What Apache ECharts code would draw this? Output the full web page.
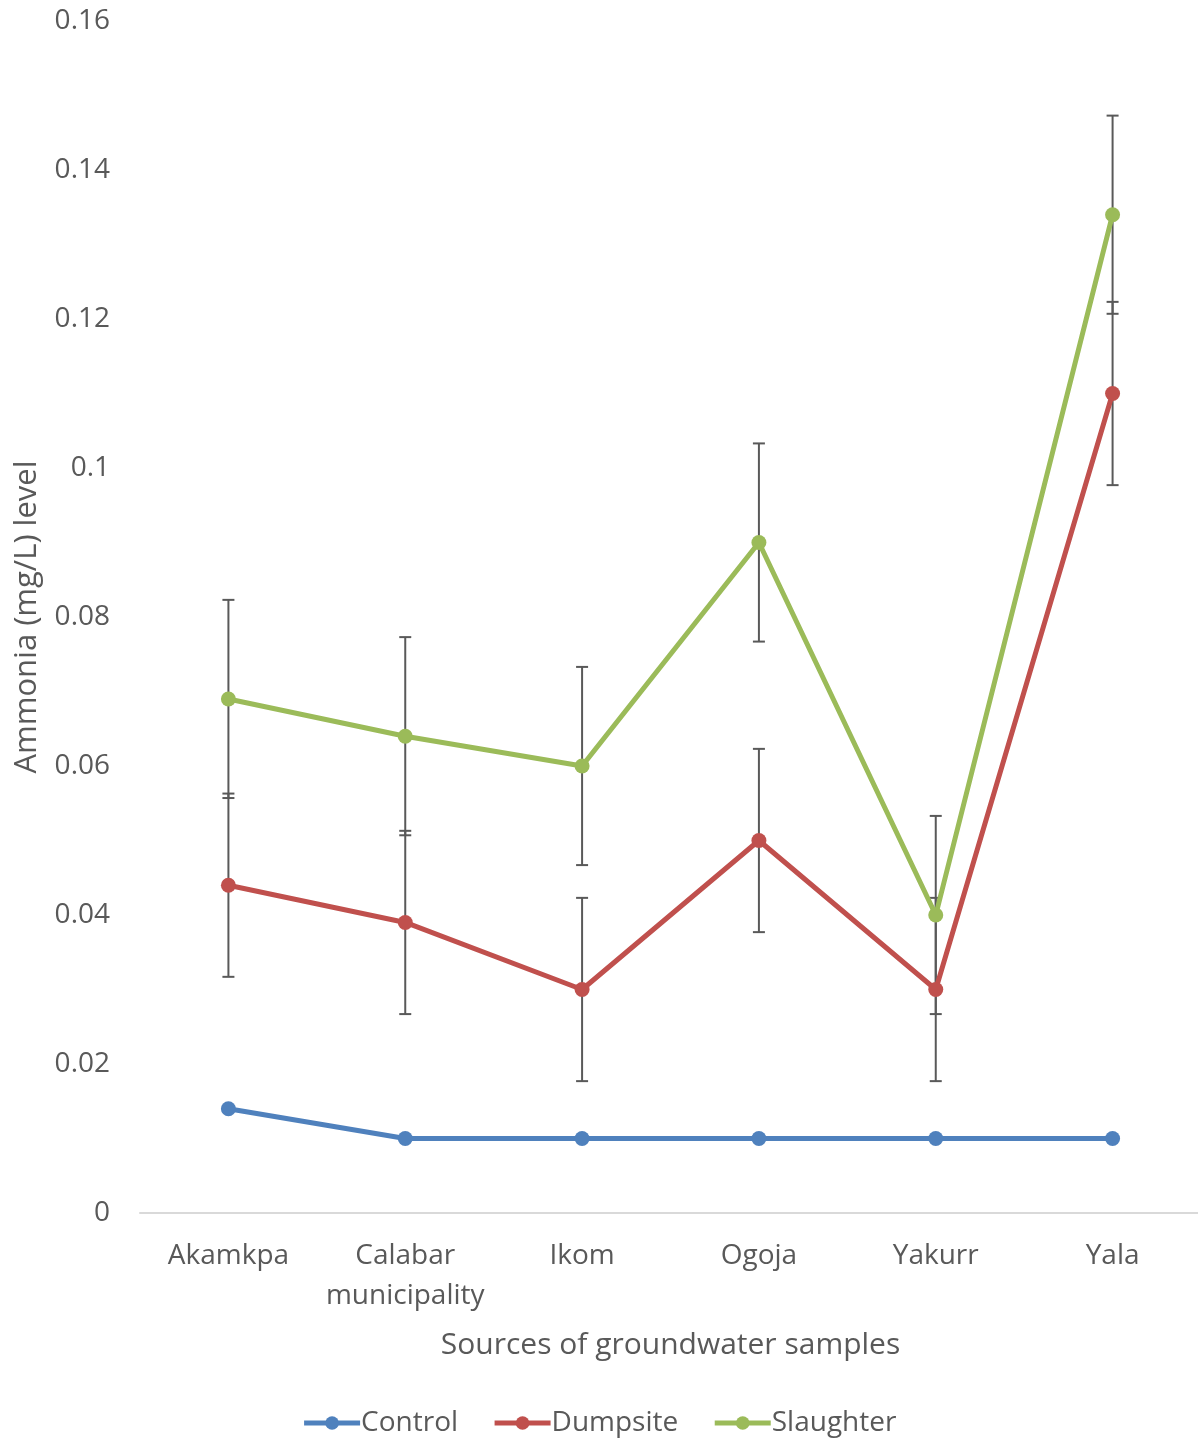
<!DOCTYPE html>
<html>
<head>
	<meta charset="UTF-8">
	<title>ammonia</title>
	<script src="https://cdn.jsdelivr.net/npm/echarts@6/dist/echarts.min.js"></script>
	<style>
		html, body { margin: 0; padding: 0; background: #fff; }
		#chart { width: 1198px; height: 1443px; }
	</style>
</head>
<body>
	<div id="chart"></div>
	<script type="text/javascript">
		var sites = ['Akamkpa', 'Calabar\nmunicipality', 'Ikom', 'Ogoja', 'Yakurr', 'Yala'];
		var yTicks = [0, 0.02, 0.04, 0.06, 0.08, 0.1, 0.12, 0.14, 0.16];

		var control = [0.014, 0.01, 0.01, 0.01, 0.01, 0.01];
		var dumpsite = [0.044, 0.039, 0.03, 0.05, 0.03, 0.11];
		var slaughter = [0.069, 0.064, 0.06, 0.09, 0.04, 0.134];

		// error amounts (+/-)
		var dumpsiteErr = [0.0123, 0.0123, 0.0123, 0.0123, 0.0123, 0.0123];
		var slaughterErr = [0.0133, 0.0133, 0.0133, 0.0133, 0.0133, 0.0133];

		var textColor = '#595959';
		var font = 'Open Sans';

		function errData(vals, errs) {
			var out = [];
			for (var i = 0; i < vals.length; i++) {
				out.push([i, vals[i] - errs[i], vals[i] + errs[i]]);
			}
			return out;
		}

		function renderErr(params, api) {
			var x = api.value(0);
			var lo = api.coord([x, api.value(1)]);
			var hi = api.coord([x, api.value(2)]);
			var w = 6;
			var st = { stroke: '#595959', lineWidth: 2 };
			return {
				type: 'group',
				children: [
					{ type: 'line', shape: { x1: hi[0], y1: hi[1], x2: lo[0], y2: lo[1] }, style: st },
					{ type: 'line', shape: { x1: hi[0] - w, y1: hi[1], x2: hi[0] + w, y2: hi[1] }, style: st },
					{ type: 'line', shape: { x1: lo[0] - w, y1: lo[1], x2: lo[0] + w, y2: lo[1] }, style: st }
				]
			};
		}

		function lineSeries(name, data, color) {
			return {
				name: name,
				type: 'line',
				data: data,
				symbol: 'circle',
				symbolSize: 15,
				z: 5,
				itemStyle: { color: color },
				lineStyle: { color: color, width: 5 }
			};
		}

		var myChart = echarts.init(document.getElementById('chart'));
		var option = {
			animation: false,
			textStyle: { fontFamily: font, color: textColor },
			grid: { left: 140, right: -3, top: 21, bottom: 230, containLabel: false, outerBoundsMode: 'none' },
			legend: {
				bottom: 1,
				left: 'center',
				itemWidth: 56,
				itemHeight: 17,
				itemGap: 34,
				lineStyle: { width: 5 },
				textStyle: { fontFamily: font, fontSize: 28, color: textColor, padding: [0, 0, 0, -4] },
				data: ['Control', 'Dumpsite', 'Slaughter']
			},
			xAxis: {
				type: 'category',
				data: sites,
				boundaryGap: true,
				axisLine: { lineStyle: { color: '#d9d9d9', width: 2 } },
				axisTick: { show: false },
				axisLabel: { fontFamily: font, fontSize: 28, color: textColor, margin: 23, lineHeight: 40, interval: 0 },
				name: 'Sources of groundwater samples',
				nameLocation: 'middle',
				nameGap: 117,
				nameTextStyle: { fontFamily: font, fontSize: 30, color: textColor }
			},
			yAxis: {
				type: 'value',
				min: yTicks[0],
				max: yTicks[yTicks.length - 1],
				interval: 0.02,
				splitLine: { show: false },
				axisLine: { show: false },
				axisTick: { show: false },
				axisLabel: { fontFamily: font, fontSize: 28, color: textColor, margin: 30 },
				name: 'Ammonia (mg/L) level',
				nameLocation: 'middle',
				nameGap: 97,
				nameTextStyle: { fontFamily: font, fontSize: 31, color: textColor }
			},
			series: [
				lineSeries('Control', control, '#4f81bd'),
				lineSeries('Dumpsite', dumpsite, '#c0504d'),
				lineSeries('Slaughter', slaughter, '#9bbb59'),
				{ type: 'custom', renderItem: renderErr, data: errData(dumpsite, dumpsiteErr), z: 3, silent: true },
				{ type: 'custom', renderItem: renderErr, data: errData(slaughter, slaughterErr), z: 3, silent: true }
			]
		};
		myChart.setOption(option);
	</script>
</body>
</html>
